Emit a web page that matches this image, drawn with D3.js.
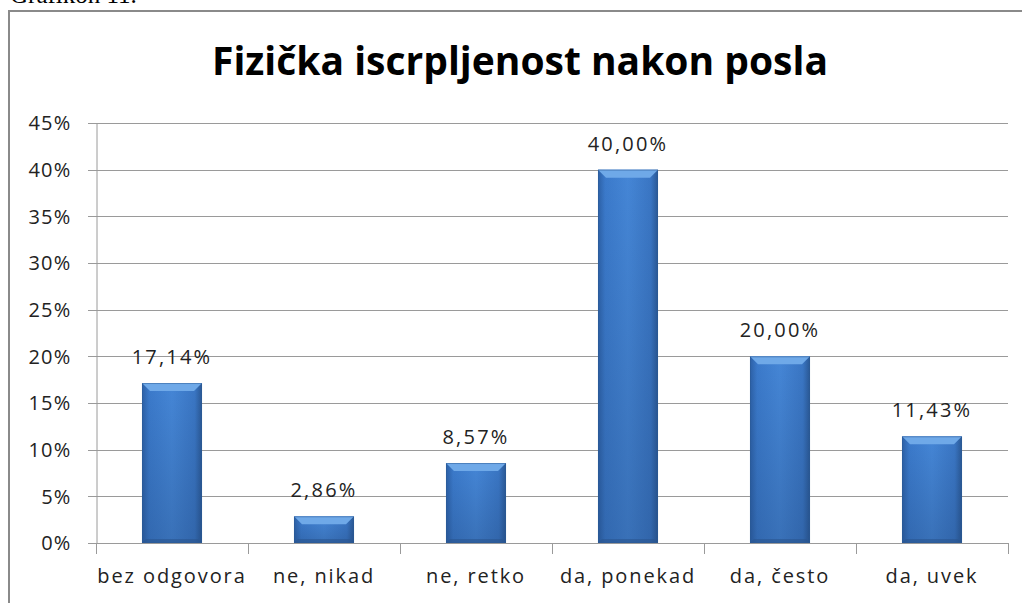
<!DOCTYPE html>
<html>
<head>
<meta charset="utf-8">
<script src="https://cdn.jsdelivr.net/npm/d3@7"></script>
<style>
  body { margin: 0; background: #fff; }
  svg { display: block; }
</style>
</head>
<body>
<script>
// chart data
const categories = ["bez odgovora", "ne, nikad", "ne, retko", "da, ponekad", "da, često", "da, uvek"];
const values = [17.14, 2.86, 8.57, 40.00, 20.00, 11.43];
const yTicks = [0, 5, 10, 15, 20, 25, 30, 35, 40, 45];

const W = 1022, H = 603;
const font = "'Open Sans', Lato, sans-serif";

const svg = d3.select("body").append("svg")
    .attr("width", W)
    .attr("height", H);

// caption above the frame (cut off at top)
svg.append("text")
    .attr("x", 10)
    .attr("y", 3)
    .attr("font-family", "'Liberation Serif', serif")
    .attr("font-size", 25)
    .attr("fill", "#000")
    .text("Grafikon 11.");

// frame
svg.append("rect")
    .attr("x", 9)
    .attr("y", 11)
    .attr("width", W + 10)
    .attr("height", H + 10)
    .attr("fill", "#fff")
    .attr("stroke", "#8a8a8a")
    .attr("stroke-width", 2);

// gradients for the bevelled bars
const defs = svg.append("defs");
const body = defs.append("linearGradient").attr("id", "barBody")
    .attr("x1", "0%").attr("x2", "100%").attr("y1", "0%").attr("y2", "0%");
body.append("stop").attr("offset", "0%").attr("stop-color", "#2c60a6");
body.append("stop").attr("offset", "12%").attr("stop-color", "#3b7acb");
body.append("stop").attr("offset", "50%").attr("stop-color", "#4586d6");
body.append("stop").attr("offset", "88%").attr("stop-color", "#3a76c4");
body.append("stop").attr("offset", "100%").attr("stop-color", "#2a5894");

const shade = defs.append("linearGradient").attr("id", "barShade")
    .attr("x1", "0%").attr("x2", "0%").attr("y1", "0%").attr("y2", "100%");
shade.append("stop").attr("offset", "0%").attr("stop-color", "#1d3f70").attr("stop-opacity", 0);
shade.append("stop").attr("offset", "100%").attr("stop-color", "#1d3f70").attr("stop-opacity", 0.3);

// scales
const x = d3.scaleBand()
    .domain(categories)
    .range([96, 1008])
    .paddingInner(0.605)
    .paddingOuter(0.3025);

const y = d3.scaleLinear()
    .domain([0, 45])
    .range([543, 123]);

// gridlines
svg.append("g")
    .selectAll("line")
    .data(yTicks)
    .join("line")
    .attr("x1", 88)
    .attr("x2", 1008)
    .attr("y1", d => Math.round(y(d)) + 0.5)
    .attr("y2", d => Math.round(y(d)) + 0.5)
    .attr("stroke", "#9a9a9a")
    .attr("stroke-width", 1);

// y axis
const yAxis = svg.append("g")
    .attr("transform", "translate(96.5,0.5)")
    .call(d3.axisLeft(y).tickValues(yTicks).tickSize(0).tickPadding(25).tickFormat(d => d + "%"));
yAxis.select(".domain").attr("stroke", "#9a9a9a");
yAxis.selectAll("text")
    .attr("font-family", font)
    .attr("font-size", 20)
    .attr("letter-spacing", 1.2)
    .attr("fill", "#222");

// x axis category ticks
const bandEdges = categories.map(c => x(c) - x.step() * x.paddingInner() / 2).concat([1008]);
svg.append("g")
    .selectAll("line")
    .data(bandEdges)
    .join("line")
    .attr("x1", d => Math.round(d) + 0.5)
    .attr("x2", d => Math.round(d) + 0.5)
    .attr("y1", 543)
    .attr("y2", 554)
    .attr("stroke", "#9a9a9a");

svg.append("g")
    .selectAll("text")
    .data(categories)
    .join("text")
    .attr("x", d => x(d) + x.bandwidth() / 2)
    .attr("y", 583)
    .attr("text-anchor", "middle")
    .attr("font-family", font)
    .attr("font-size", 20)
    .attr("letter-spacing", 1.9)
    .attr("fill", "#222")
    .text(d => d);

// bars
const bars = svg.append("g")
    .selectAll("g")
    .data(values)
    .join("g");

const bw = x.bandwidth();
const bev = 8;

bars.append("rect")
    .attr("x", (d, i) => x(categories[i]))
    .attr("y", d => y(d))
    .attr("width", bw)
    .attr("height", d => y(0) - y(d))
    .attr("fill", "url(#barBody)");

bars.append("rect")
    .attr("x", (d, i) => x(categories[i]))
    .attr("y", d => y(d))
    .attr("width", bw)
    .attr("height", d => y(0) - y(d))
    .attr("fill", "url(#barShade)");

// top bevel
bars.append("path")
    .attr("d", (d, i) => {
        const x0 = x(categories[i]), y0 = y(d);
        const b = Math.min(bev, (y(0) - y0) / 2);
        return `M${x0},${y0} L${x0 + bw},${y0} L${x0 + bw - b},${y0 + b} L${x0 + b},${y0 + b} Z`;
    })
    .attr("fill", "#6fa9e8");

// bottom bevel
bars.append("path")
    .attr("d", (d, i) => {
        const x0 = x(categories[i]), y1 = y(0);
        const b = Math.min(bev, (y1 - y(d)) / 2) * 0.5;
        return `M${x0},${y1} L${x0 + bw},${y1} L${x0 + bw - b},${y1 - b} L${x0 + b},${y1 - b} Z`;
    })
    .attr("fill", "#2a5590")
    .attr("opacity", 0.6);

bars.append("rect")
    .attr("x", (d, i) => x(categories[i]) + 0.5)
    .attr("y", d => y(d) + 0.5)
    .attr("width", bw - 1)
    .attr("height", d => y(0) - y(d) - 1)
    .attr("fill", "none")
    .attr("stroke", "#2b5a96")
    .attr("stroke-opacity", 0.5);

// value labels
bars.append("text")
    .attr("x", (d, i) => x(categories[i]) + bw / 2)
    .attr("y", d => y(d) - 19)
    .attr("text-anchor", "middle")
    .attr("font-family", font)
    .attr("font-size", 20)
    .attr("letter-spacing", 2.2)
    .attr("fill", "#222")
    .text(d => d.toFixed(2).replace(".", ",") + "%");

// title
svg.append("text")
    .attr("x", 520)
    .attr("y", 75)
    .attr("text-anchor", "middle")
    .attr("font-family", font)
    .attr("font-weight", "bold")
    .attr("font-size", 39)
    .attr("fill", "#000")
    .text("Fizička iscrpljenost nakon posla");
</script>
</body>
</html>
